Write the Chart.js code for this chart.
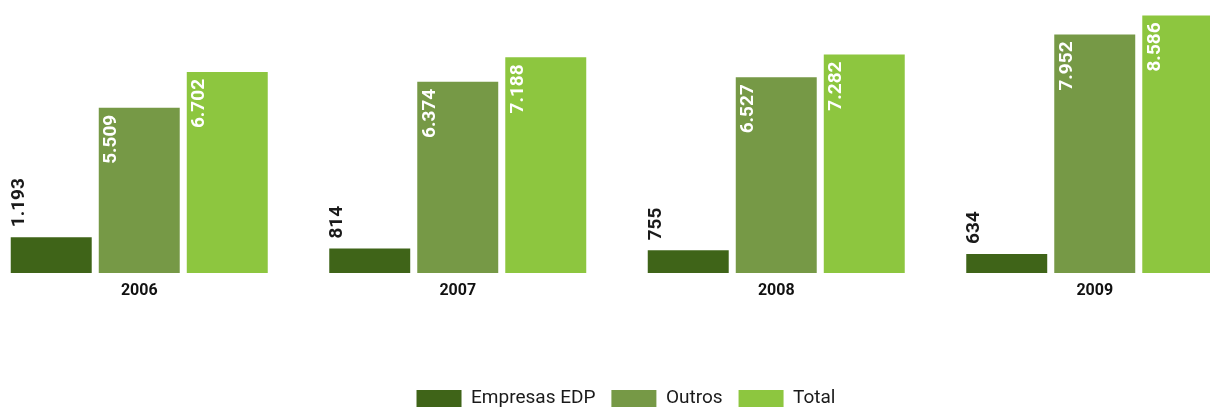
<!DOCTYPE html>
<html>
<head>
<meta charset="utf-8">
<script src="https://cdn.jsdelivr.net/npm/chart.js@4.4.1/dist/chart.umd.min.js"></script>
<style>
html, body { margin: 0; padding: 0; background: #fff; overflow: hidden; width: 1210px; height: 410px; }
#chart { position: absolute; left: -20px; top: 0; }
</style>
</head>
<body>
<canvas id="chart" width="1292" height="418"></canvas>
<script>
var years = ['2006', '2007', '2008', '2009'];
var empresasEdp = [1193, 814, 755, 634];
var outros = [5509, 6374, 6527, 7952];
var total = [6702, 7188, 7282, 8586];
var seriesNames = ['Empresas EDP', 'Outros', 'Total'];
var seriesColors = ['#3f6418', '#769946', '#8dc63f'];

// 1193 -> "1.193"
function fmt(v) {
    return String(v).replace(/\B(?=(\d{3})+(?!\d))/g, '.');
}

// vertical value labels: outside (dark) for the first series, inside (white) for the rest
var barLabels = {
    id: 'barLabels',
    afterDatasetsDraw(chart) {
        var ctx = chart.ctx;
        ctx.save();
        ctx.font = 'bold 19px Roboto';
        ctx.textBaseline = 'middle';
        chart.data.datasets.forEach(function (ds, i) {
            chart.getDatasetMeta(i).data.forEach(function (bar, j) {
                var left = bar.x - bar.width / 2;
                ctx.save();
                if (i == 0) {
                    ctx.translate(left + 8, bar.y - 10);
                    ctx.rotate(-Math.PI / 2);
                    ctx.textAlign = 'left';
                    ctx.fillStyle = '#1a1a1a';
                } else {
                    ctx.translate(left + 12.5, bar.y + 7);
                    ctx.rotate(-Math.PI / 2);
                    ctx.textAlign = 'right';
                    ctx.fillStyle = '#ffffff';
                }
                ctx.fillText(fmt(ds.data[j]), 0, 0);
                ctx.restore();
            });
        });
        ctx.restore();
    }
};

var chart = new Chart(document.getElementById('chart'), {
    type: 'bar',
    data: {
        labels: years,
        datasets: [
            { label: seriesNames[0], data: empresasEdp, backgroundColor: seriesColors[0], borderWidth: 0 },
            { label: seriesNames[1], data: outros, backgroundColor: seriesColors[1], borderWidth: 0 },
            { label: seriesNames[2], data: total, backgroundColor: seriesColors[2], borderWidth: 0 }
        ]
    },
    options: {
        responsive: false,
        animation: false,
        layout: { padding: 0 },
        datasets: { bar: { categoryPercentage: 0.829, barPercentage: 0.92 } },
        plugins: {
            legend: {
                position: 'bottom',
                labels: {
                    boxWidth: 45,
                    boxHeight: 17,
                    padding: 16,
                    color: '#1a1a1a',
                    font: { family: 'Roboto', size: 19 }
                }
            },
            tooltip: { enabled: false }
        },
        scales: {
            x: {
                grid: { display: false },
                border: { display: false },
                ticks: { color: '#111', padding: 0, font: { family: 'Roboto', size: 16, weight: 'bold' } },
                afterFit: function (s) { s.height = 100; }
            },
            y: {
                position: 'right',
                min: 0,
                max: 9100,
                grid: { display: false },
                border: { display: false },
                ticks: { display: false },
                afterFit: function (s) { s.width = 18; }
            }
        }
    },
    plugins: [barLabels]
});
</script>
</body>
</html>
